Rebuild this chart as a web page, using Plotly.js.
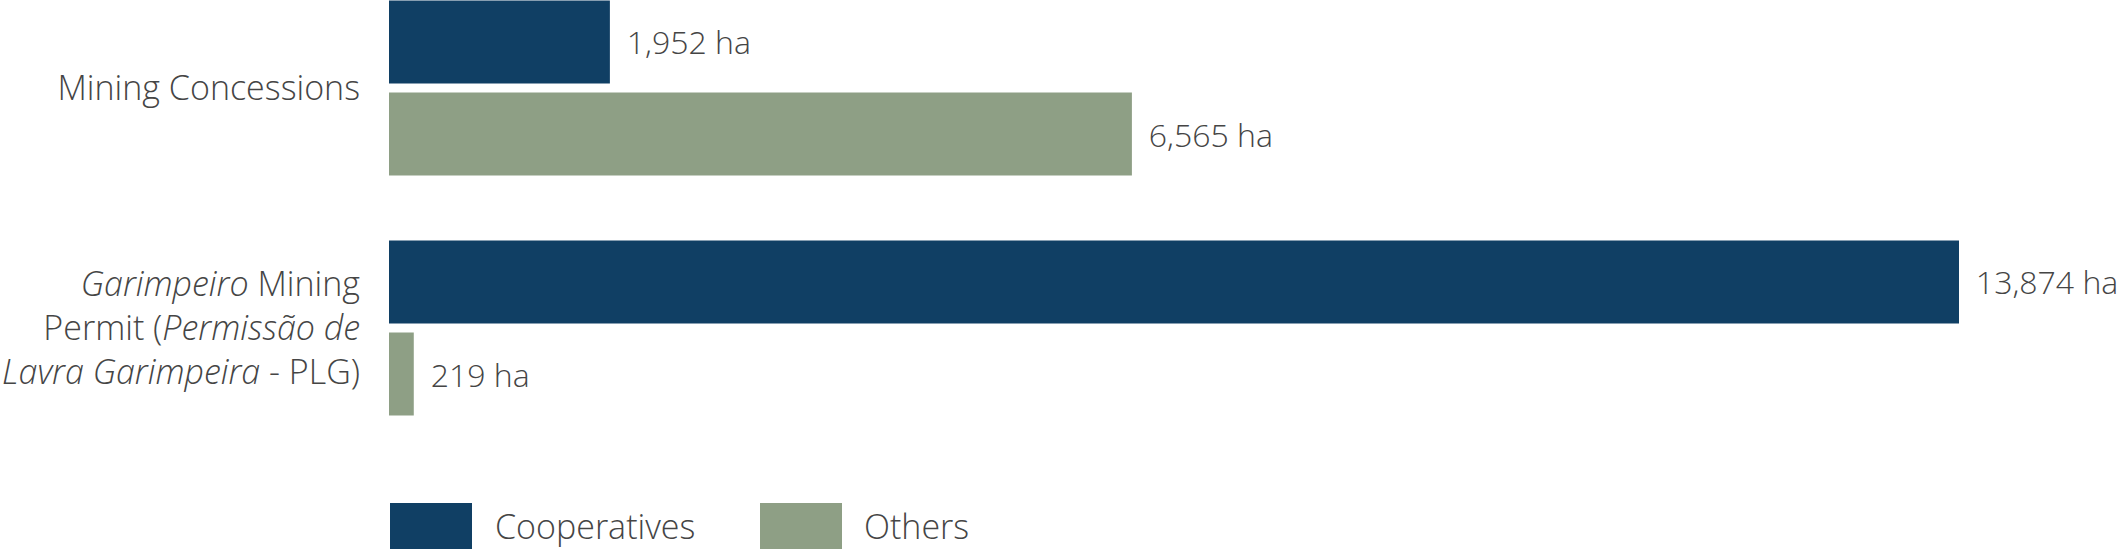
<!DOCTYPE html>
<html>
<head>
<meta charset="utf-8">
<script src="https://cdn.plot.ly/plotly-3.0.1.min.js"></script>
<style>html,body{margin:0;padding:0;background:#fff;}</style>
</head>
<body>
<div id="chart" style="width:2120px;height:551px;"></div>
<script>
// ---- data ----
const categories = [
  'Mining Concessions',
  '<i>Garimpeiro</i> Mining<br>Permit (<i>Permissão de</i><br><i>Lavra Garimpeira</i> - PLG)'
];
const seriesNames = ['Cooperatives', 'Others'];
const cooperatives = [1952, 13874];
const others = [6565, 219];
const unit = 'ha';

// ---- style ----
const colors = ['#103f64', '#8e9f85'];
const textColor = '#454545';
const fontFamily = '"Open Sans", "DejaVu Sans", sans-serif';
const W = 2120, H = 551;
const mL = 389, mR = 0, mT = 0, mB = 91;
const plotW = W - mL - mR, plotH = H - mT - mB;
const px2x = p => (p - mL) / plotW;
const px2y = p => 1 - (p - mT) / plotH;

const seriesValues = [cooperatives, others];
const traces = seriesValues.map((vals, i) => ({
  type: 'bar',
  orientation: 'h',
  name: seriesNames[i],
  x: vals,
  y: categories,
  marker: {color: colors[i], line: {width: 0}},
  texttemplate: '\u2004\u200A%{x:,} ' + unit,
  textposition: 'outside',
  cliponaxis: false,
  constraintext: 'none',
  textfont: {family: fontFamily, size: 32, color: textColor, weight: 300},
  hoverinfo: 'none'
}));

// custom legend (large swatches)
const legendItems = [
  {box: [390, 472], text: 493},
  {box: [760, 842], text: 862}
];
const shapes = legendItems.map((it, i) => ({
  type: 'rect', xref: 'paper', yref: 'paper',
  x0: px2x(it.box[0]), x1: px2x(it.box[1]),
  y0: px2y(549), y1: px2y(503),
  fillcolor: colors[i], line: {width: 0}
}));
const annotations = legendItems.map((it, i) => ({
  xref: 'paper', yref: 'paper',
  x: px2x(it.text), y: px2y(526),
  xanchor: 'left', yanchor: 'middle',
  text: seriesNames[i], showarrow: false,
  font: {family: fontFamily, size: 34, color: textColor, weight: 300}
}));

const layout = {
  width: W, height: H,
  margin: {l: mL, r: mR, t: mT, b: mB, pad: 0},
  paper_bgcolor: '#fff', plot_bgcolor: '#fff',
  barmode: 'group',
  bargap: 0.233,
  bargroupgap: 0.098,
  showlegend: false,
  font: {family: fontFamily, size: 34, color: textColor, weight: 300},
  xaxis: {
    range: [0, 13874 * plotW / 1570],
    visible: false, showgrid: false, zeroline: false, fixedrange: true
  },
  yaxis: {
    type: 'category',
    range: [1.55, -0.3667],
    showgrid: false, zeroline: false, showline: false,
    ticks: '', ticklabelstandoff: 28,
    tickfont: {family: fontFamily, size: 34, color: textColor, weight: 300},
    fixedrange: true
  },
  shapes: shapes,
  annotations: annotations
};

Plotly.newPlot('chart', traces, layout, {displayModeBar: false, staticPlot: true});
</script>
</body>
</html>
